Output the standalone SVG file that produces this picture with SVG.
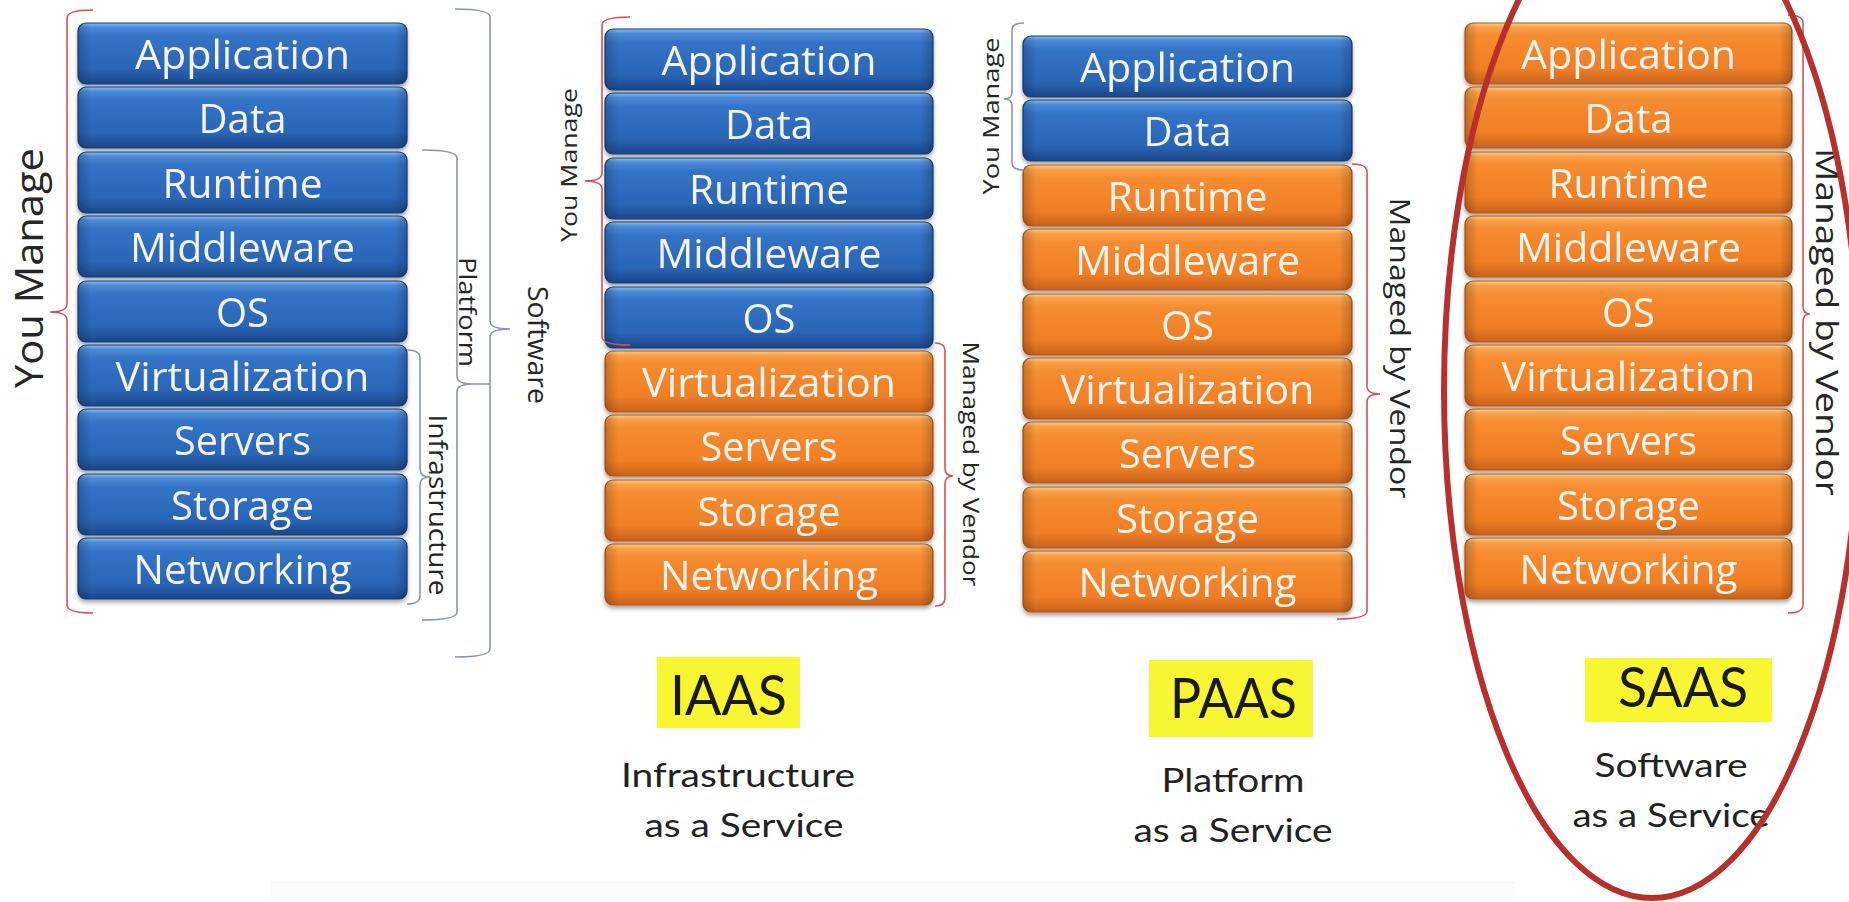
<svg xmlns="http://www.w3.org/2000/svg" width="1849" height="902" viewBox="0 0 1849 902">
<defs>
<linearGradient id="gBlue" x1="0" y1="0" x2="0" y2="1">
<stop offset="0" stop-color="#8cbcf0"/><stop offset="0.07" stop-color="#4d8bd8"/><stop offset="0.22" stop-color="#3473c6"/><stop offset="0.75" stop-color="#2a65b6"/><stop offset="1" stop-color="#1a4788"/>
</linearGradient>
<linearGradient id="gOrange" x1="0" y1="0" x2="0" y2="1">
<stop offset="0" stop-color="#fdd08a"/><stop offset="0.07" stop-color="#f9a04a"/><stop offset="0.22" stop-color="#f68c31"/><stop offset="0.75" stop-color="#f07e25"/><stop offset="1" stop-color="#c8621c"/>
</linearGradient>
<linearGradient id="gEdge" x1="0" y1="0" x2="1" y2="0">
<stop offset="0" stop-color="#000" stop-opacity="0.2"/><stop offset="0.04" stop-color="#000" stop-opacity="0"/><stop offset="0.96" stop-color="#000" stop-opacity="0"/><stop offset="1" stop-color="#000" stop-opacity="0.2"/>
</linearGradient>
<filter id="sh" x="-5%" y="-20%" width="110%" height="150%"><feDropShadow dx="0" dy="3" stdDeviation="2" flood-color="#000" flood-opacity="0.35"/></filter>
<style>
.box{stroke-width:1.2}
.blue{fill:url(#gBlue);stroke:#173f77}
.orange{fill:url(#gOrange);stroke:#b2561c}
.edge{fill:url(#gEdge);stroke:none}
.lbl{font-family:"Open Sans","DejaVu Sans",sans-serif;font-size:40px;fill:#f4f3ee;text-anchor:middle}
.side{font-family:"Open Sans","DejaVu Sans",sans-serif;fill:#262626;text-anchor:middle}
.brR{fill:none;stroke:#d9505a;stroke-width:1.6}
.brG{fill:none;stroke:#8797ad;stroke-width:1.6}
.tag{fill:#f8f532}
.tagt{font-family:Lato,"Liberation Sans",sans-serif;font-size:56px;fill:#1a1a1a;text-anchor:middle}
.sub{font-family:Lato,"Liberation Sans",sans-serif;font-size:33px;fill:#222;text-anchor:middle}
</style>
</defs>
<rect width="1849" height="902" fill="#ffffff"/>
<rect x="271" y="882" width="1244" height="20" fill="#fbfbfb"/>
<line x1="271" y1="882" x2="1515" y2="882" stroke="#f3f3f3" stroke-width="1"/>

<!-- Stack 1: all managed by you -->
<g id="stack1" filter="url(#sh)">
<g id="s1-application"><rect class="box blue" x="78" y="23" width="329" height="61" rx="8"/><rect class="edge" x="78" y="23" width="329" height="61" rx="8"/><text class="lbl" x="242.5" y="69" textLength="215" lengthAdjust="spacingAndGlyphs">Application</text></g>
<g id="s1-data"><rect class="box blue" x="78" y="87" width="329" height="61" rx="8"/><rect class="edge" x="78" y="87" width="329" height="61" rx="8"/><text class="lbl" x="242.5" y="133" textLength="88" lengthAdjust="spacingAndGlyphs">Data</text></g>
<g id="s1-runtime"><rect class="box blue" x="78" y="152" width="329" height="61" rx="8"/><rect class="edge" x="78" y="152" width="329" height="61" rx="8"/><text class="lbl" x="242.5" y="198" textLength="160" lengthAdjust="spacingAndGlyphs">Runtime</text></g>
<g id="s1-middleware"><rect class="box blue" x="78" y="216" width="329" height="61" rx="8"/><rect class="edge" x="78" y="216" width="329" height="61" rx="8"/><text class="lbl" x="242.5" y="262" textLength="225" lengthAdjust="spacingAndGlyphs">Middleware</text></g>
<g id="s1-os"><rect class="box blue" x="78" y="281" width="329" height="61" rx="8"/><rect class="edge" x="78" y="281" width="329" height="61" rx="8"/><text class="lbl" x="242.5" y="327" textLength="53" lengthAdjust="spacingAndGlyphs">OS</text></g>
<g id="s1-virtualization"><rect class="box blue" x="78" y="345" width="329" height="61" rx="8"/><rect class="edge" x="78" y="345" width="329" height="61" rx="8"/><text class="lbl" x="242.5" y="391" textLength="254" lengthAdjust="spacingAndGlyphs">Virtualization</text></g>
<g id="s1-servers"><rect class="box blue" x="78" y="409" width="329" height="61" rx="8"/><rect class="edge" x="78" y="409" width="329" height="61" rx="8"/><text class="lbl" x="242.5" y="455" textLength="137" lengthAdjust="spacingAndGlyphs">Servers</text></g>
<g id="s1-storage"><rect class="box blue" x="78" y="474" width="329" height="61" rx="8"/><rect class="edge" x="78" y="474" width="329" height="61" rx="8"/><text class="lbl" x="242.5" y="520" textLength="143" lengthAdjust="spacingAndGlyphs">Storage</text></g>
<g id="s1-networking"><rect class="box blue" x="78" y="538" width="329" height="61" rx="8"/><rect class="edge" x="78" y="538" width="329" height="61" rx="8"/><text class="lbl" x="242.5" y="584" textLength="218" lengthAdjust="spacingAndGlyphs">Networking</text></g>
</g>

<!-- Stack 2: IAAS -->
<g id="stack2" filter="url(#sh)">
<g id="s2-application"><rect class="box blue" x="605" y="29" width="328" height="61" rx="8"/><rect class="edge" x="605" y="29" width="328" height="61" rx="8"/><text class="lbl" x="769" y="75" textLength="215" lengthAdjust="spacingAndGlyphs">Application</text></g>
<g id="s2-data"><rect class="box blue" x="605" y="93" width="328" height="61" rx="8"/><rect class="edge" x="605" y="93" width="328" height="61" rx="8"/><text class="lbl" x="769" y="139" textLength="88" lengthAdjust="spacingAndGlyphs">Data</text></g>
<g id="s2-runtime"><rect class="box blue" x="605" y="158" width="328" height="61" rx="8"/><rect class="edge" x="605" y="158" width="328" height="61" rx="8"/><text class="lbl" x="769" y="204" textLength="160" lengthAdjust="spacingAndGlyphs">Runtime</text></g>
<g id="s2-middleware"><rect class="box blue" x="605" y="222" width="328" height="61" rx="8"/><rect class="edge" x="605" y="222" width="328" height="61" rx="8"/><text class="lbl" x="769" y="268" textLength="225" lengthAdjust="spacingAndGlyphs">Middleware</text></g>
<g id="s2-os"><rect class="box blue" x="605" y="287" width="328" height="61" rx="8"/><rect class="edge" x="605" y="287" width="328" height="61" rx="8"/><text class="lbl" x="769" y="333" textLength="53" lengthAdjust="spacingAndGlyphs">OS</text></g>
<g id="s2-virtualization"><rect class="box orange" x="605" y="351" width="328" height="61" rx="8"/><rect class="edge" x="605" y="351" width="328" height="61" rx="8"/><text class="lbl" x="769" y="397" textLength="254" lengthAdjust="spacingAndGlyphs">Virtualization</text></g>
<g id="s2-servers"><rect class="box orange" x="605" y="415" width="328" height="61" rx="8"/><rect class="edge" x="605" y="415" width="328" height="61" rx="8"/><text class="lbl" x="769" y="461" textLength="137" lengthAdjust="spacingAndGlyphs">Servers</text></g>
<g id="s2-storage"><rect class="box orange" x="605" y="480" width="328" height="61" rx="8"/><rect class="edge" x="605" y="480" width="328" height="61" rx="8"/><text class="lbl" x="769" y="526" textLength="143" lengthAdjust="spacingAndGlyphs">Storage</text></g>
<g id="s2-networking"><rect class="box orange" x="605" y="544" width="328" height="61" rx="8"/><rect class="edge" x="605" y="544" width="328" height="61" rx="8"/><text class="lbl" x="769" y="590" textLength="218" lengthAdjust="spacingAndGlyphs">Networking</text></g>
</g>

<!-- Stack 3: PAAS -->
<g id="stack3" filter="url(#sh)">
<g id="s3-application"><rect class="box blue" x="1023" y="36" width="329" height="61" rx="8"/><rect class="edge" x="1023" y="36" width="329" height="61" rx="8"/><text class="lbl" x="1187.5" y="82" textLength="215" lengthAdjust="spacingAndGlyphs">Application</text></g>
<g id="s3-data"><rect class="box blue" x="1023" y="100" width="329" height="61" rx="8"/><rect class="edge" x="1023" y="100" width="329" height="61" rx="8"/><text class="lbl" x="1187.5" y="146" textLength="88" lengthAdjust="spacingAndGlyphs">Data</text></g>
<g id="s3-runtime"><rect class="box orange" x="1023" y="165" width="329" height="61" rx="8"/><rect class="edge" x="1023" y="165" width="329" height="61" rx="8"/><text class="lbl" x="1187.5" y="211" textLength="160" lengthAdjust="spacingAndGlyphs">Runtime</text></g>
<g id="s3-middleware"><rect class="box orange" x="1023" y="229" width="329" height="61" rx="8"/><rect class="edge" x="1023" y="229" width="329" height="61" rx="8"/><text class="lbl" x="1187.5" y="275" textLength="225" lengthAdjust="spacingAndGlyphs">Middleware</text></g>
<g id="s3-os"><rect class="box orange" x="1023" y="294" width="329" height="61" rx="8"/><rect class="edge" x="1023" y="294" width="329" height="61" rx="8"/><text class="lbl" x="1187.5" y="340" textLength="53" lengthAdjust="spacingAndGlyphs">OS</text></g>
<g id="s3-virtualization"><rect class="box orange" x="1023" y="358" width="329" height="61" rx="8"/><rect class="edge" x="1023" y="358" width="329" height="61" rx="8"/><text class="lbl" x="1187.5" y="404" textLength="254" lengthAdjust="spacingAndGlyphs">Virtualization</text></g>
<g id="s3-servers"><rect class="box orange" x="1023" y="422" width="329" height="61" rx="8"/><rect class="edge" x="1023" y="422" width="329" height="61" rx="8"/><text class="lbl" x="1187.5" y="468" textLength="137" lengthAdjust="spacingAndGlyphs">Servers</text></g>
<g id="s3-storage"><rect class="box orange" x="1023" y="487" width="329" height="61" rx="8"/><rect class="edge" x="1023" y="487" width="329" height="61" rx="8"/><text class="lbl" x="1187.5" y="533" textLength="143" lengthAdjust="spacingAndGlyphs">Storage</text></g>
<g id="s3-networking"><rect class="box orange" x="1023" y="551" width="329" height="61" rx="8"/><rect class="edge" x="1023" y="551" width="329" height="61" rx="8"/><text class="lbl" x="1187.5" y="597" textLength="218" lengthAdjust="spacingAndGlyphs">Networking</text></g>
</g>

<!-- Stack 4: SAAS -->
<g id="stack4" filter="url(#sh)">
<g id="s4-application"><rect class="box orange" x="1465" y="23" width="327" height="61" rx="8"/><rect class="edge" x="1465" y="23" width="327" height="61" rx="8"/><text class="lbl" x="1628.5" y="69" textLength="215" lengthAdjust="spacingAndGlyphs">Application</text></g>
<g id="s4-data"><rect class="box orange" x="1465" y="87" width="327" height="61" rx="8"/><rect class="edge" x="1465" y="87" width="327" height="61" rx="8"/><text class="lbl" x="1628.5" y="133" textLength="88" lengthAdjust="spacingAndGlyphs">Data</text></g>
<g id="s4-runtime"><rect class="box orange" x="1465" y="152" width="327" height="61" rx="8"/><rect class="edge" x="1465" y="152" width="327" height="61" rx="8"/><text class="lbl" x="1628.5" y="198" textLength="160" lengthAdjust="spacingAndGlyphs">Runtime</text></g>
<g id="s4-middleware"><rect class="box orange" x="1465" y="216" width="327" height="61" rx="8"/><rect class="edge" x="1465" y="216" width="327" height="61" rx="8"/><text class="lbl" x="1628.5" y="262" textLength="225" lengthAdjust="spacingAndGlyphs">Middleware</text></g>
<g id="s4-os"><rect class="box orange" x="1465" y="281" width="327" height="61" rx="8"/><rect class="edge" x="1465" y="281" width="327" height="61" rx="8"/><text class="lbl" x="1628.5" y="327" textLength="53" lengthAdjust="spacingAndGlyphs">OS</text></g>
<g id="s4-virtualization"><rect class="box orange" x="1465" y="345" width="327" height="61" rx="8"/><rect class="edge" x="1465" y="345" width="327" height="61" rx="8"/><text class="lbl" x="1628.5" y="391" textLength="254" lengthAdjust="spacingAndGlyphs">Virtualization</text></g>
<g id="s4-servers"><rect class="box orange" x="1465" y="409" width="327" height="61" rx="8"/><rect class="edge" x="1465" y="409" width="327" height="61" rx="8"/><text class="lbl" x="1628.5" y="455" textLength="137" lengthAdjust="spacingAndGlyphs">Servers</text></g>
<g id="s4-storage"><rect class="box orange" x="1465" y="474" width="327" height="61" rx="8"/><rect class="edge" x="1465" y="474" width="327" height="61" rx="8"/><text class="lbl" x="1628.5" y="520" textLength="143" lengthAdjust="spacingAndGlyphs">Storage</text></g>
<g id="s4-networking"><rect class="box orange" x="1465" y="538" width="327" height="61" rx="8"/><rect class="edge" x="1465" y="538" width="327" height="61" rx="8"/><text class="lbl" x="1628.5" y="584" textLength="218" lengthAdjust="spacingAndGlyphs">Networking</text></g>
</g>

<!-- Braces (connectors) -->
<g id="braces">
<path class="brR" d="M93 10 Q67 10 67 18 V304 Q67 312 50 312 Q67 312 67 320 V605 Q67 613 93 613"/>
<path class="brG" d="M422 150 Q457 150 457 158 V376 Q457 384 472 384 L490 384 M472 384 Q457 384 457 392 V612 Q457 620 422 620"/>
<path class="brG" d="M455 9 Q490 9 490 17 V321 Q490 329 510 329 Q490 329 490 337 V649 Q490 657 455 657"/>
<path class="brG" d="M407 350 Q420 350 420 358 V469 Q420 477 430 477 Q420 477 420 485 V596 Q420 604 407 604"/>
<path class="brR" d="M630 17 Q602 17 602 25 V173 Q602 181 585 181 Q602 181 602 189 V337 Q602 345 630 345"/>
<path class="brR" d="M935 343 Q945 343 945 351 V468 Q945 476 953 476 Q945 476 945 484 V598 Q945 606 935 606"/>
<path class="brG" d="M1024 23 Q1012 23 1012 30 V92 Q1012 99 1004 99 Q1012 99 1012 106 V163 Q1012 170 1024 170"/>
<path class="brR" d="M1352 164 Q1367 164 1367 172 V386 Q1367 394 1380 394 Q1367 394 1367 402 V611 Q1367 619 1337 619"/>
<path class="brR" d="M1788 15 Q1803 15 1803 23 V306 Q1803 314 1810 314 Q1803 314 1803 322 V605 Q1803 613 1788 613"/>
</g>

<!-- Side labels -->
<g id="side-labels">
<text class="side" transform="translate(43,268) rotate(-90)" font-size="38" textLength="240" lengthAdjust="spacingAndGlyphs">You Manage</text>
<text class="side" transform="translate(459,312) rotate(90)" font-size="24" textLength="110" lengthAdjust="spacingAndGlyphs">Platform</text>
<text class="side" transform="translate(528,345) rotate(90)" font-size="27" textLength="118" lengthAdjust="spacingAndGlyphs">Software</text>
<text class="side" transform="translate(429,505) rotate(90)" font-size="26" textLength="181" lengthAdjust="spacingAndGlyphs">Infrastructure</text>
<text class="side" transform="translate(577,165) rotate(-90)" font-size="22" textLength="154" lengthAdjust="spacingAndGlyphs">You Manage</text>
<text class="side" transform="translate(963,464) rotate(90)" font-size="22" textLength="245" lengthAdjust="spacingAndGlyphs">Managed by Vendor</text>
<text class="side" transform="translate(999,116) rotate(-90)" font-size="22" textLength="157" lengthAdjust="spacingAndGlyphs">You Manage</text>
<text class="side" transform="translate(1390,348) rotate(90)" font-size="27" textLength="301" lengthAdjust="spacingAndGlyphs">Managed by Vendor</text>
<text class="side" transform="translate(1816,322) rotate(90)" font-size="31" textLength="348" lengthAdjust="spacingAndGlyphs">Managed by Vendor</text>
</g>

<!-- Model tags -->
<g id="iaas">
<rect class="tag" x="657" y="657" width="143" height="71"/>
<text class="tagt" x="728.5" y="715" textLength="117" lengthAdjust="spacingAndGlyphs">IAAS</text>
<text class="sub" x="738" y="787" textLength="234" lengthAdjust="spacingAndGlyphs">Infrastructure</text>
<text class="sub" x="744" y="837" textLength="199" lengthAdjust="spacingAndGlyphs">as a Service</text>
</g>
<g id="paas">
<rect class="tag" x="1149" y="660" width="164" height="77"/>
<text class="tagt" x="1233.5" y="718" textLength="127" lengthAdjust="spacingAndGlyphs">PAAS</text>
<text class="sub" x="1233" y="792" textLength="143" lengthAdjust="spacingAndGlyphs">Platform</text>
<text class="sub" x="1233" y="842" textLength="199" lengthAdjust="spacingAndGlyphs">as a Service</text>
</g>
<g id="saas">
<rect class="tag" x="1585" y="658" width="187" height="64"/>
<text class="tagt" x="1683" y="707" textLength="130" lengthAdjust="spacingAndGlyphs">SAAS</text>
<text class="sub" x="1671" y="777" textLength="153" lengthAdjust="spacingAndGlyphs">Software</text>
<text class="sub" x="1671" y="827" textLength="197" lengthAdjust="spacingAndGlyphs">as a Service</text>
</g>

<ellipse id="saas-highlight" cx="1652" cy="390" rx="208" ry="508" fill="none" stroke="#b8302b" stroke-width="6"/>
</svg>
